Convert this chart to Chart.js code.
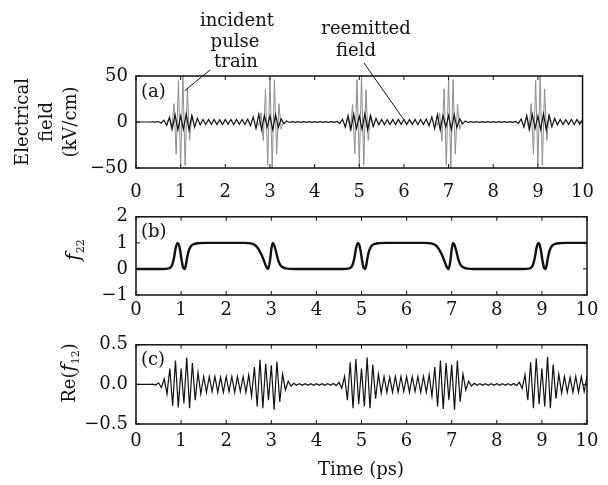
<!DOCTYPE html>
<html>
<head>
<meta charset="utf-8">
<script src="https://cdn.jsdelivr.net/npm/chart.js@4.4.1/dist/chart.umd.min.js"></script>
<style>
body { margin: 0; background: #fff; }
#wrap { position: relative; width: 608px; height: 485px; }
canvas { position: absolute; left: 0; }
</style>
</head>
<body>
<div id="wrap">
<canvas id="ca" width="608" height="205" style="top:0px"></canvas>
<canvas id="cb" width="608" height="132" style="top:198px"></canvas>
<canvas id="cc" width="608" height="159" style="top:326px"></canvas>
</div>
<script>
const FONT = "'DejaVu Serif', serif";

// time step (ps) between samples of the oscillating curves
const dt = 0.0625;

// (a) reemitted field, kV/cm, one value per dt
const fieldRe = [
  0, 0, 0, 0, 0, 0, 0.1, -0.2,
  0.5, -1, 2, -3.5, 5, -7, 8, -8.5,
  6.5, -8, 9, -8.5, 7, -5.5, 4, -3.2,
  2.8, -2.8, 2.8, -2.6, 2.8, -2.8, 2.6, -2.8,
  2.8, -2.6, 2.8, -2.8, 2.8, -2.6, 2.8, -2.8,
  3.2, -4, 5.5, -7, 8.5, -8.5, 7, -5.5,
  6.5, -8.5, 8, -6, 3.5, -2, 1, -0.5,
  0.4, -0.3, 0.3, -0.3, 0.3, -0.3, 0.3, -0.3,
  0.3, -0.3, 0.3, -0.3, 0.3, -0.3, 0.3, -0.4,
  0.6, -1.5, 3, -5.5, 7, -8, 8.5, -7,
  6.5, -8, 9, -8.5, 7, -5, 3.8, -3,
  2.8, -2.8, 2.6, -2.8, 2.8, -2.8, 2.8, -2.6,
  2.8, -2.8, 2.8, -2.6, 2.8, -2.8, 2.8, -2.8,
  3.2, -4, 5.5, -7, 8, -8.5, 7, -5.5,
  7, -8.5, 8, -6, 3.5, -2, 1, -0.5,
  0.4, -0.3, 0.3, -0.3, 0.3, -0.3, 0.3, -0.3,
  0.3, -0.3, 0.3, -0.3, 0.3, -0.3, 0.3, -0.4,
  0.6, -1.5, 3.2, -5.5, 7, -8, 8.5, -7,
  6.5, -8, 9, -8.5, 7, -5, 3.8, -3,
  2.8, -2.8, 2.6, -2.8, 2.8, -2.8, 2.8, -2.6,
  2.8
];

// (a) incident pulse train: offsets from each pulse centre (ps) and field values
const pulseCenters = [1, 3, 5, 7, 9];
const pulseOffsets = [-0.3, -0.25, -0.2, -0.15, -0.1, -0.05, 0, 0.05, 0.1, 0.15, 0.2, 0.25, 0.3];
const pulse1 = [0, 4, -10, 20, -35, 45, -48, 50, -47, 36, -20, 8, 0];
const pulse3 = [0, -4, 10, -20, 35, -47, 48, -50, 46, -35, 20, -8, 0];
const pulse5 = [0, 4, -10, 19, -35, 46, -48, 50, -47, 35, -20, 8, 0];
const pulse7 = [0, -4, 10, -21, 36, -47, 47, -50, 46, -35, 19, -8, 0];
const pulse9 = [0, 4, -9, 20, -35, 45, -47, 50, -47, 36, -20, 8, 0];

// (b) f22
const f22Time = [
  0, 0.6, 0.7, 0.76, 0.8, 0.84, 0.88, 0.92, 0.95, 0.98, 1.01, 1.04, 1.07, 1.1, 1.13, 1.17, 1.22, 1.3, 1.4, 1.55,
  2.4, 2.55, 2.65, 2.72, 2.78, 2.84, 2.89, 2.93, 2.97, 3.0, 3.03, 3.06, 3.1, 3.15, 3.2, 3.27, 3.35, 3.5,
  4.6, 4.7, 4.76, 4.8, 4.84, 4.88, 4.92, 4.95, 4.98, 5.01, 5.04, 5.07, 5.1, 5.13, 5.17, 5.22, 5.3, 5.4, 5.55,
  6.4, 6.55, 6.65, 6.72, 6.78, 6.84, 6.89, 6.93, 6.97, 7.0, 7.03, 7.06, 7.1, 7.15, 7.2, 7.27, 7.35, 7.5,
  8.6, 8.7, 8.76, 8.8, 8.84, 8.88, 8.92, 8.95, 8.98, 9.01, 9.04, 9.07, 9.1, 9.13, 9.17, 9.22, 9.3, 9.4, 9.55, 10
];
const f22Val = [
  0, 0, 0.01, 0.05, 0.15, 0.4, 0.8, 1, 0.93, 0.7, 0.35, 0.08, 0, 0.1, 0.4, 0.7, 0.88, 0.96, 0.99, 1,
  1, 0.98, 0.9, 0.75, 0.55, 0.3, 0.08, 0, 0.3, 0.75, 1, 0.93, 0.7, 0.35, 0.15, 0.05, 0.01, 0,
  0, 0.01, 0.05, 0.15, 0.4, 0.8, 1, 0.93, 0.7, 0.35, 0.08, 0, 0.1, 0.4, 0.7, 0.88, 0.96, 0.99, 1,
  1, 0.98, 0.9, 0.75, 0.55, 0.3, 0.08, 0, 0.3, 0.75, 1, 0.93, 0.7, 0.35, 0.15, 0.05, 0.01, 0,
  0, 0.01, 0.05, 0.15, 0.4, 0.8, 1, 0.93, 0.7, 0.35, 0.08, 0, 0.1, 0.4, 0.7, 0.88, 0.96, 0.99, 1, 1
];

// (c) Re(f12), one value per dt
const re12 = [
  0, 0, 0, 0, 0, 0, 0.004, -0.008,
  0.02, -0.04, 0.07, -0.12, 0.2, -0.27, 0.3, -0.29,
  0.2, -0.24, 0.34, -0.3, 0.27, -0.2, 0.15, -0.12,
  0.1, -0.1, 0.1, -0.09, 0.1, -0.1, 0.09, -0.1,
  0.1, -0.09, 0.1, -0.1, 0.1, -0.09, 0.1, -0.1,
  0.12, -0.15, 0.22, -0.28, 0.31, -0.3, 0.26, -0.2,
  0.24, -0.32, 0.29, -0.22, 0.13, -0.07, 0.04, -0.02,
  0.015, -0.012, 0.01, -0.01, 0.01, -0.01, 0.01, -0.01,
  0.01, -0.01, 0.01, -0.01, 0.01, -0.012, 0.012, -0.015,
  0.025, -0.05, 0.1, -0.2, 0.28, -0.3, 0.32, -0.25,
  0.2, -0.28, 0.34, -0.3, 0.25, -0.18, 0.13, -0.11,
  0.1, -0.1, 0.09, -0.1, 0.1, -0.1, 0.1, -0.09,
  0.1, -0.1, 0.1, -0.09, 0.1, -0.1, 0.1, -0.1,
  0.12, -0.15, 0.22, -0.28, 0.3, -0.31, 0.27, -0.2,
  0.25, -0.32, 0.3, -0.22, 0.13, -0.07, 0.04, -0.02,
  0.015, -0.012, 0.01, -0.01, 0.01, -0.01, 0.01, -0.01,
  0.01, -0.01, 0.01, -0.01, 0.01, -0.012, 0.012, -0.015,
  0.025, -0.05, 0.12, -0.2, 0.28, -0.3, 0.33, -0.25,
  0.2, -0.28, 0.35, -0.3, 0.25, -0.18, 0.13, -0.11,
  0.1, -0.1, 0.09, -0.1, 0.1, -0.1, 0.1, -0.09,
  0.1
];

function sampled(vals) {
  return vals.map((v, i) => ({ x: i * dt, y: v }));
}

function pulseTrain() {
  let pts = [];
  let pulses = [pulse1, pulse3, pulse5, pulse7, pulse9];
  pulses.forEach((p, k) => {
    p.forEach((v, j) => pts.push({ x: pulseCenters[k] + pulseOffsets[j], y: v }));
    pts.push({ x: pulseCenters[k] + 0.4, y: null });
  });
  return pts;
}

function minus(s) {
  return String(s).replace('-', '\u2212');
}

function drawRotated(ctx, cx, cy, parts) {
  ctx.save();
  ctx.translate(cx, cy);
  ctx.rotate(-Math.PI / 2);
  ctx.textBaseline = 'middle';
  ctx.textAlign = 'left';
  ctx.fillStyle = '#111';
  let w = 0;
  for (const p of parts) { ctx.font = p.font; p.w = ctx.measureText(p.text).width; w += p.w; }
  let x0 = -w / 2;
  for (const p of parts) { ctx.font = p.font; ctx.fillText(p.text, x0, p.dy || 0); x0 += p.w; }
  ctx.restore();
}

function framePlugin(label, extra) {
  return {
    id: 'frame' + label,
    afterDraw(chart) {
      const ctx = chart.ctx, a = chart.chartArea, x = chart.scales.x, y = chart.scales.y;
      ctx.save();
      ctx.strokeStyle = '#111';
      ctx.lineWidth = 1.5;
      ctx.strokeRect(a.left, a.top, a.right - a.left, a.bottom - a.top);
      ctx.lineWidth = 1;
      ctx.beginPath();
      for (const t of x.ticks) {
        let px = x.getPixelForValue(t.value);
        ctx.moveTo(px, a.bottom); ctx.lineTo(px, a.bottom - 4);
        ctx.moveTo(px, a.top); ctx.lineTo(px, a.top + 4);
      }
      for (const t of y.ticks) {
        let py = y.getPixelForValue(t.value);
        ctx.moveTo(a.left, py); ctx.lineTo(a.left + 4, py);
        ctx.moveTo(a.right, py); ctx.lineTo(a.right - 4, py);
      }
      ctx.stroke();
      ctx.fillStyle = '#111';
      ctx.font = '18px ' + FONT;
      ctx.textBaseline = 'middle';
      ctx.textAlign = 'left';
      ctx.fillText('(' + label + ')', a.left + 5, a.top + 16);
      ctx.restore();
      if (extra) extra(chart);
    }
  };
}

function baseOptions(ymin, ymax, ystep, fmt, padTop, xHeight, xPad) {
  return {
    responsive: false,
    animation: false,
    layout: { padding: { left: 0, right: 21, top: padTop, bottom: 0 } },
    plugins: { legend: { display: false }, tooltip: { enabled: false } },
    elements: { point: { radius: 0 } },
    scales: {
      x: {
        type: 'linear', min: 0, max: 10,
        grid: { display: false, drawTicks: false },
        border: { display: false },
        ticks: { stepSize: 1, color: '#111', padding: xPad, font: { family: FONT, size: 18 }, maxRotation: 0 },
        afterFit(s) { s.height = xHeight; }
      },
      y: {
        min: ymin, max: ymax,
        grid: { display: false, drawTicks: false },
        border: { display: false },
        ticks: { stepSize: ystep, color: '#111', padding: 8, font: { family: FONT, size: 18 }, callback: fmt },
        afterFit(s) { s.width = 136; }
      }
    }
  };
}

// panel (a)
new Chart(document.getElementById('ca'), {
  type: 'line',
  data: {
    datasets: [
      { label: 'reemitted field', data: sampled(fieldRe), borderColor: '#111', borderWidth: 1.2, tension: 0 },
      { label: 'incident pulse train', data: pulseTrain(), borderColor: '#8c8c8c', borderWidth: 1, tension: 0, spanGaps: false }
    ]
  },
  options: baseOptions(-50, 50, 50, v => minus(v), 76, 37, 14),
  plugins: [framePlugin('a', chart => {
    const ctx = chart.ctx, x = chart.scales.x, y = chart.scales.y;
    ctx.save();
    ctx.fillStyle = '#111';
    ctx.font = '18px ' + FONT;
    ctx.textAlign = 'center';
    ctx.textBaseline = 'middle';
    ctx.fillText('incident', 237, 21);
    ctx.fillText('pulse', 235, 42);
    ctx.fillText('train', 236, 62);
    ctx.fillText('reemitted', 366, 29);
    ctx.fillText('field', 356, 51);
    ctx.strokeStyle = '#111';
    ctx.lineWidth = 1;
    ctx.beginPath();
    ctx.moveTo(210, 70);
    ctx.lineTo(x.getPixelForValue(1.09), y.getPixelForValue(34));
    ctx.moveTo(364, 63);
    ctx.lineTo(x.getPixelForValue(6.02), y.getPixelForValue(1));
    ctx.stroke();
    ctx.restore();
    const f = '18px ' + FONT;
    drawRotated(ctx, 23, 122, [{ text: 'Electrical', font: f }]);
    drawRotated(ctx, 47, 122, [{ text: 'field', font: f }]);
    drawRotated(ctx, 71, 122, [{ text: '(kV/cm)', font: f }]);
  })]
});

// panel (b)
new Chart(document.getElementById('cb'), {
  type: 'line',
  data: {
    datasets: [
      { label: 'f22', data: f22Time.map((t, i) => ({ x: t, y: f22Val[i] })), borderColor: '#111', borderWidth: 2.4, cubicInterpolationMode: 'monotone' }
    ]
  },
  options: baseOptions(-1, 2, 1, v => minus(v), 8, 35, 5),
  plugins: [framePlugin('b', chart => {
    drawRotated(chart.ctx, 75, 52, [
      { text: 'f', font: 'italic 20px ' + FONT },
      { text: '22', font: '11px ' + FONT, dy: 6 }
    ]);
  })]
});

// panel (c)
new Chart(document.getElementById('cc'), {
  type: 'line',
  data: {
    datasets: [
      { label: 'Re(f12)', data: sampled(re12), borderColor: '#111', borderWidth: 1.2, tension: 0 }
    ]
  },
  options: baseOptions(-0.5, 0.5, 0.5, v => minus(v.toFixed(1)), 6, 61, 7),
  plugins: [framePlugin('c', chart => {
    const ctx = chart.ctx;
    drawRotated(ctx, 70, 47, [
      { text: 'Re(', font: '18px ' + FONT },
      { text: 'f', font: 'italic 20px ' + FONT },
      { text: '12', font: '11px ' + FONT, dy: 6 },
      { text: ')', font: '18px ' + FONT }
    ]);
    ctx.save();
    ctx.fillStyle = '#111';
    ctx.font = '18px ' + FONT;
    ctx.textAlign = 'center';
    ctx.textBaseline = 'middle';
    ctx.fillText('Time (ps)', 361, 144);
    ctx.restore();
  })]
});
</script>
</body>
</html>
